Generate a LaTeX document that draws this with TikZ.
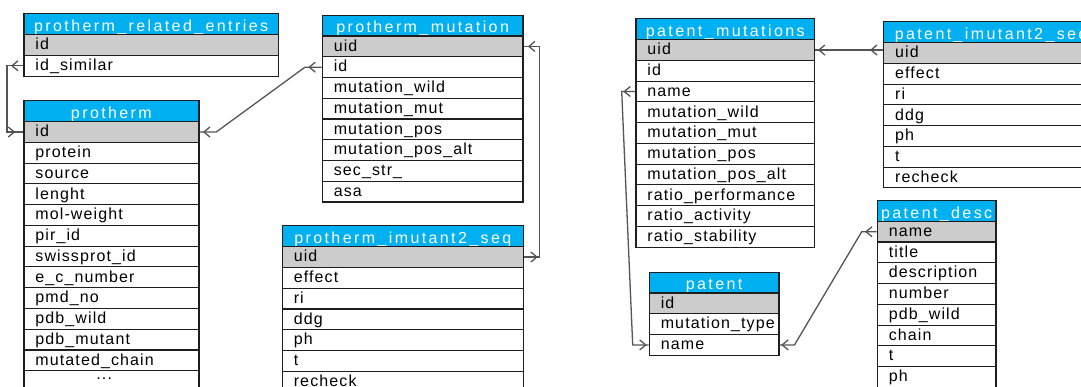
\documentclass[tikz,border=0pt]{standalone}
\usepackage{fontspec}
\setmainfont{Liberation Sans}
\newfontfamily\bodyfont{Liberation Sans}[LetterSpace=7]
\newfontfamily\headfont{Liberation Sans}[LetterSpace=15]
\usetikzlibrary{arrows.meta,decorations.markings}
\definecolor{hdrblue}{RGB}{0,176,240}
\definecolor{keygray}{RGB}{204,204,204}
\definecolor{bordc}{RGB}{30,30,30}
\definecolor{connc}{RGB}{85,85,85}
\tikzset{
  hdr/.style={draw=bordc, line width=1.2pt, fill=hdrblue, text=white, anchor=north west,
    minimum height=20.75pt, inner ysep=0pt, inner xsep=0pt, text height=15pt, text depth=0.5pt,
    font=\headfont\fontsize{16pt}{18pt}\selectfont},
  fld/.style={draw=bordc, line width=1.2pt, anchor=north west, text=black,
    minimum height=20.75pt, inner ysep=0pt, inner xsep=11.5pt, text height=12.5pt, text depth=3pt,
    font=\bodyfont\fontsize{16pt}{18pt}\selectfont},
  conn/.style={color=connc, draw, line width=1.3pt},
  onemark/.style={postaction={decorate,decoration={markings,
    mark=at position #1 with {\arrowreversed{Straight Barb[length=6pt,width=10pt,line width=1.3pt]}}}}},
  manymark/.style={postaction={decorate,decoration={markings,
    mark=at position -#1 with {\arrowreversed{Straight Barb[length=6pt,width=10pt,line width=1.3pt]}}}}}
}
\newcommand{\dbtable}[6]{%
  \node[hdr, minimum width=#4pt] (#1-0) at (#2,#3) {#5};
  \foreach \r [count=\i] in {#6} {
    \ifnum\i=1 \def\rowfill{keygray}\else\def\rowfill{white}\fi
    \node[fld, fill=\rowfill] (#1-\i) at (#2,{#3+20.75*\i}) {\makebox[\dimexpr#4pt-23pt\relax][l]{\r}};
  }%
}
\begin{document}
\begin{tikzpicture}[x=1pt,y=-1pt]
\useasboundingbox (0,0) rectangle (1081,387);
\clip (0,0) rectangle (1081,387);
\fill[white] (0,0) rectangle (1081,387);

\dbtable{re}{23.3}{13.3}{254.4}{protherm\_related\_entries}{id,id\_similar}
\dbtable{p}{23.3}{100.3}{175}{protherm}{id,protein,source,lenght,mol-weight,pir\_id,swissprot\_id,e\_c\_number,pmd\_no,pdb\_wild,pdb\_mutant,mutated\_chain,{\hspace*{61pt}\raisebox{6.5pt}[0pt][0pt]{...}}}
\dbtable{mut}{321.7}{14.7}{200.6}{protherm\_mutation}{uid,id,mutation\_wild,mutation\_mut,mutation\_pos,mutation\_pos\_alt,sec\_str\_,asa}
\dbtable{imut}{281.7}{225.3}{241}{protherm\_imutant2\_seq}{uid,effect,ri,ddg,ph,t,recheck}
\dbtable{pm}{635.3}{18.3}{178.7}{patent\_mutations}{uid,id,name,mutation\_wild,mutation\_mut,mutation\_pos,mutation\_pos\_alt,ratio\_performance,ratio\_activity,ratio\_stability}
\dbtable{pi}{883}{21.3}{215}{patent\_imutant2\_seq}{uid,effect,ri,ddg,ph,t,recheck}
\dbtable{pd}{876.7}{200}{118.6}{patent\_desc}{name,title,description,number,pdb\_wild,chain,t,ph}
\dbtable{pt}{648.7}{271.7}{129.6}{patent}{id,mutation\_type,name}

\draw[conn, onemark=8pt, manymark=12.3pt] (p-1.west) -- ++(-16.3,0) |- (re-2.west);
\draw[conn, onemark=3.4pt, manymark=13.4pt] (p-1.east) -- ++(16.7,0) -- ([xshift=-16.7pt]mut-2.west) -- (mut-2.west);
\draw[conn, onemark=4.4pt, manymark=14pt] (mut-1.east) -- ++(16,0) |- (imut-1.east);
\draw[conn, onemark=2.7pt, manymark=13pt] (pm-1.east) -- (pm-1.east -| pi-1.west);
\draw[conn, onemark=2pt, manymark=12pt] (pt-3.west) -- ++(-16,0) -- ([xshift=-13.6pt]pm-3.west) -- (pm-3.west);
\draw[conn, onemark=1.7pt, manymark=11.7pt] (pt-3.east) -- ++(15,0) -- ([xshift=-15pt]pd-1.west) -- (pd-1.west);
\end{tikzpicture}
\end{document}
